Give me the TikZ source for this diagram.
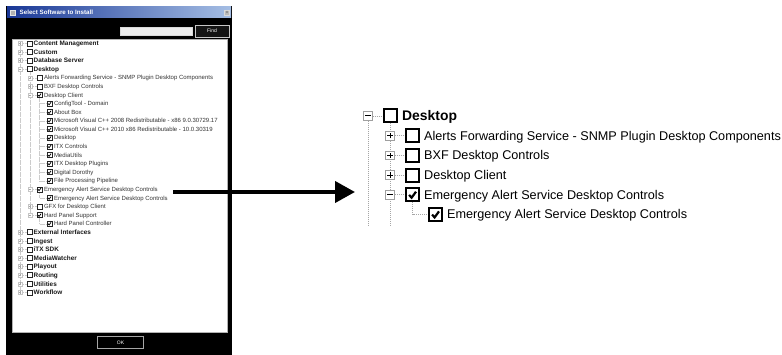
\documentclass[tikz,border=0pt]{standalone}
\usepackage{fontspec}
\setmainfont{Liberation Sans}
\usetikzlibrary{arrows.meta}
\pgfdeclarelayer{bg}
\pgfdeclarelayer{lines}
\pgfsetlayers{bg,lines,main}
\definecolor{tbL}{RGB}{25,55,150}
\definecolor{tbR}{RGB}{165,190,228}
\newcommand{\chk}[3]{%
  \draw[line width=#3, line join=miter, line cap=butt]
    ([shift={(-0.68*#2,0.02*#2)}]#1.center) --
    ([shift={(-0.18*#2,0.58*#2)}]#1.center) --
    ([shift={(0.7*#2,-0.62*#2)}]#1.center);}
\newcommand{\xminus}[4][black]{\draw[#1, line width=#4] ([xshift=-#3]#2.center) -- ([xshift=#3]#2.center);}
\newcommand{\xplus}[4][black]{\xminus[#1]{#2}{#3}{#4}\draw[#1, line width=#4] ([yshift=-#3]#2.center) -- ([yshift=#3]#2.center);}
\begin{document}
\begin{tikzpicture}[x=1pt,y=-1pt,
  dlgtxt/.style={font=\fontsize{6}{7}\selectfont, text=black!80, inner sep=0, anchor=base west},
  dlgbold/.style={font=\fontsize{6.4}{7}\selectfont\bfseries, text=black!90, inner sep=0, anchor=base west},
  scb/.style={draw=black!85, line width=0.6, minimum size=5, inner sep=0, fill=white},
  sexp/.style={draw=gray!45, line width=0.4, minimum size=4, inner sep=0, fill=white},
  sdot/.style={gray!40, line width=0.35, dash pattern=on 0.6 off 0.6},
  bigtxt/.style={font=\fontsize{12.66}{14}\selectfont, inner sep=0, anchor=base west},
  bigbold/.style={font=\fontsize{13.9}{15}\selectfont\bfseries, inner sep=0, anchor=base west},
  bcb/.style={draw, line width=2, minimum size=13, inner sep=0, fill=white},
  bexp/.style={draw=gray!75, line width=0.8, minimum size=8.5, inner sep=0, fill=white},
  bdot/.style={gray!70, line width=0.8, dash pattern=on 1 off 1},
  smallbtn/.style={font=\fontsize{5}{6}\selectfont, text=white, inner sep=0}
]
\useasboundingbox (0,0) rectangle (782,355);

% ---------------- dialog window ----------------
\begin{pgfonlayer}{bg}
  \fill[black] (6,6) rectangle (232,355);
  \shade[left color=tbL, right color=tbR] (7,7) rectangle (231,18);
  \filldraw[fill=white, draw=gray!60, line width=0.6] (12,39) rectangle (227,332);
\end{pgfonlayer}
\node[draw=white!80!gray, fill=gray!60, line width=0.4, minimum width=5, minimum height=4.5, inner sep=0] (icon) at (13,12.5) {};
\node[font=\fontsize{6.2}{7}\selectfont\bfseries, text=white, anchor=base west, inner sep=0] (title) at (19.5,14.7) {Select Software to Install};
\node[fill=gray!55, draw=gray!30, line width=0.3, minimum width=5, minimum height=5, inner sep=0, font=\fontsize{4}{4}\selectfont, text=black!70] (close) at (227,12.5) {x};
\node[draw=gray!30, fill=gray!15, line width=0.5, minimum width=72, minimum height=7.5, inner sep=0] (search) at (156,31.2) {};
\node[smallbtn, draw=gray!45, line width=0.4, fill=black!92, minimum width=34, minimum height=12] (find) at (212,31) {Find};
\node[smallbtn, draw=gray!70, line width=1.2, fill=black, minimum width=46, minimum height=12.5] (ok) at (120.5,342.5) {OK};

% tree in the dialog
\foreach \ri/\rl/\rc/\re/\rp/\rt in {
  0/0/0/1/0/Content Management,
  1/0/0/1/0/Custom,
  2/0/0/1/0/Database Server,
  3/0/0/2/0/Desktop,
  4/1/0/1/0/Alerts Forwarding Service - SNMP Plugin Desktop Components,
  5/1/0/1/0/BXF Desktop Controls,
  6/1/1/2/0/Desktop Client,
  7/2/1/0/6/ConfigTool - Domain,
  8/2/1/0/6/About Box,
  9/2/1/0/6/Microsoft Visual C++ 2008 Redistributable - x86 9.0.30729.17,
  10/2/1/0/6/Microsoft Visual C++ 2010  x86 Redistributable - 10.0.30319,
  11/2/1/0/6/Desktop,
  12/2/1/0/6/ITX Controls,
  13/2/1/0/6/MediaUtils,
  14/2/1/0/6/ITX Desktop Plugins,
  15/2/1/0/6/Digital Dorothy,
  16/2/1/0/6/File Processing Pipeline,
  17/1/1/2/0/Emergency Alert Service Desktop Controls,
  18/2/1/0/17/Emergency Alert Service Desktop Controls,
  19/1/0/1/0/GFX for Desktop Client,
  20/1/1/2/0/Hard Panel Support,
  21/2/1/0/20/Hard Panel Controller,
  22/0/0/1/0/External Interfaces,
  23/0/0/1/0/Ingest,
  24/0/0/1/0/iTX SDK,
  25/0/0/1/0/MediaWatcher,
  26/0/0/1/0/Playout,
  27/0/0/1/0/Routing,
  28/0/0/1/0/Utilities,
  29/0/0/1/0/Workflow}{
  \pgfmathsetmacro{\yy}{43.5+8.58*\ri}
  \pgfmathsetmacro{\xc}{29.5+10*\rl}
  \node[scb] (dc\ri) at (\xc,\yy) {};
  \ifnum\rc=1 \chk{dc\ri}{2.2}{0.75}\fi
  \ifnum\rl=0
    \node[dlgbold] (d\ri) at (\xc+4,\yy+2.3) {\rt};
  \else
    \node[dlgtxt] (d\ri) at (\xc+4.3,\yy+2.1) {\rt};
  \fi
  \ifnum\re>0
    \node[sexp] (de\ri) at (\xc-9.5,\yy) {};
    \ifnum\re=1 \xplus[gray!70]{de\ri}{1.3}{0.35}\else \xminus[gray!70]{de\ri}{1.3}{0.35}\fi
    \begin{pgfonlayer}{lines}\draw[sdot] (de\ri) -- (dc\ri);\end{pgfonlayer}
  \else
    \begin{pgfonlayer}{lines}\draw[sdot] (dc\ri -| dc\rp) -- (dc\ri);\end{pgfonlayer}
  \fi
}
\begin{pgfonlayer}{lines}
  \draw[sdot] (de0) -- (de29);
  \draw[sdot] (de4 |- dc3.south) -- (de20);
  \draw[sdot] (dc6.south) -- (dc6.south |- dc16);
  \draw[sdot] (dc17.south) -- (dc17.south |- dc18);
  \draw[sdot] (dc20.south) -- (dc20.south |- dc21);
\end{pgfonlayer}

% ---------------- enlarged tree ----------------
\node[bexp] (re0) at (368,116) {};   \xminus{re0}{2.6}{1}
\node[bcb] (rc0) at (390,116) {};
\node[bigbold] (r0) at (402,121) {Desktop};

\node[bexp] (re1) at (390,135.7) {}; \xplus{re1}{2.6}{1}
\node[bcb] (rc1) at (412.5,135.7) {};
\node[bigtxt] (r1) at (424,140.2) {Alerts Forwarding Service - SNMP Plugin Desktop Components};

\node[bexp] (re2) at (390,155.4) {}; \xplus{re2}{2.6}{1}
\node[bcb] (rc2) at (412.5,155.4) {};
\node[bigtxt] (r2) at (424,159.9) {BXF Desktop Controls};

\node[bexp] (re3) at (390,175.1) {}; \xplus{re3}{2.6}{1}
\node[bcb] (rc3) at (412.5,175.1) {};
\node[bigtxt] (r3) at (424,179.6) {Desktop Client};

\node[bexp] (re4) at (390,194.8) {}; \xminus{re4}{2.6}{1}
\node[bcb] (rc4) at (412.5,194.8) {};
\chk{rc4}{5}{2.2}
\node[bigtxt] (r4) at (424,199.3) {Emergency Alert Service Desktop Controls};

\node[bcb] (rc5) at (435.5,214.5) {};
\chk{rc5}{5}{2.2}
\node[bigtxt] (r5) at (447,219) {Emergency Alert Service Desktop Controls};

\coordinate (rb0) at (368,226);
\coordinate (rb1) at (390,226);
\begin{pgfonlayer}{lines}
  \draw[bdot] (re0.south) -- (rb0);
  \draw[bdot] (rc0.south) -- (rb1);
  \foreach \k in {0,...,4}{\draw[bdot] (re\k) -- (rc\k);}
  \draw[bdot] (rc4.south) -- (rc4.south |- rc5) -- (rc5.west);
\end{pgfonlayer}

% ---------------- arrow ----------------
\coordinate (aS) at (173,192);
\coordinate (aE) at (355,192);
\draw[line width=4, -{Triangle[length=20pt,width=21pt]}] (aS) -- (aE);
\end{tikzpicture}
\end{document}
